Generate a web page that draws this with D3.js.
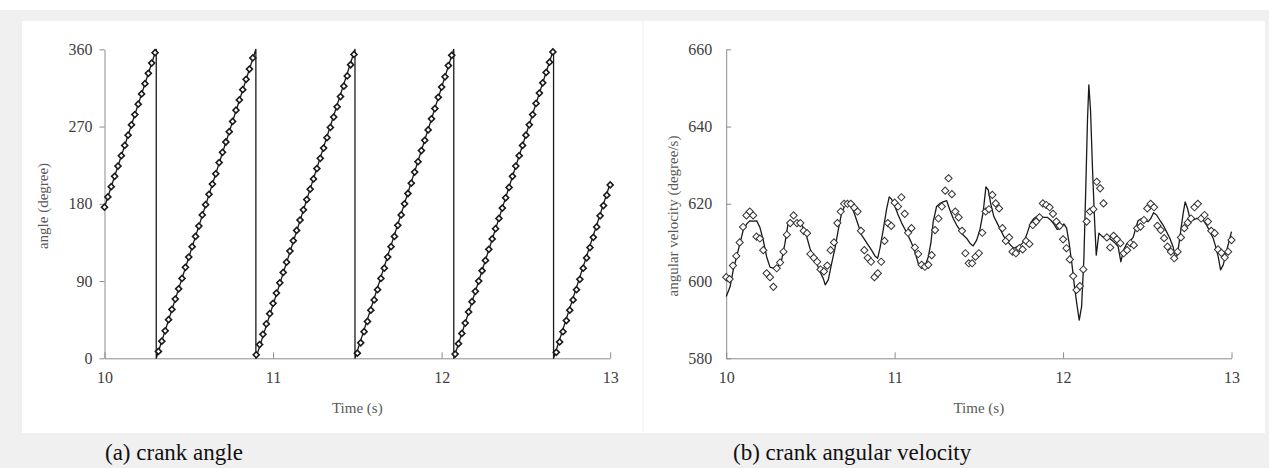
<!DOCTYPE html>
<html>
<head>
<meta charset="utf-8">
<script src="https://cdn.jsdelivr.net/npm/d3@7"></script>
<style>
  body { margin: 0; background: #fff; }
  svg { display: block; }
  .axis path, .axis line { stroke: #8c8c8c; }
</style>
</head>
<body>
<svg id="chart" width="1269" height="468"></svg>
<script>
const serif = "'Liberation Serif', 'Times New Roman', 'DejaVu Serif', serif";

// sampling grid of the measured points (50 Hz, 10 s .. 13 s)
const sampleTimes = d3.range(151).map(i => 10 + i * 0.02);

// (a) measured crank angle, degree
const angleSamples = [
  176, 188, 200, 212, 224, 236, 248, 260, 272, 284, 296, 308, 320, 332, 344, 356,
  8, 20, 32, 45, 57, 69, 81, 93, 106, 118, 130, 142, 154, 167, 179, 191, 203, 215, 228, 240, 252, 264, 276, 289, 301, 313, 325, 337, 350,
  4, 16, 28, 40, 52, 64, 76, 88, 100, 112, 125, 137, 149, 161, 173, 185, 197, 209, 221, 233, 245, 257, 269, 281, 293, 305, 317, 329, 342, 354,
  6, 18, 31, 43, 56, 68, 80, 93, 105, 118, 130, 142, 155, 167, 180, 192, 204, 217, 229, 242, 254, 266, 279, 291, 304, 316, 328, 341, 353,
  5, 17, 29, 41, 54, 66, 78, 90, 102, 114, 127, 139, 151, 163, 175, 187, 199, 212, 224, 236, 248, 260, 272, 284, 297, 309, 321, 333, 345, 357,
  7, 19, 31, 44, 56, 68, 80, 92, 105, 117, 129, 141, 153, 166, 178, 190, 202
];

// (a) estimated crank angle line (vertices)
const angleLineT = [10, 10.307, 10.307, 10.898, 10.898, 11.486, 11.486, 12.072, 12.072, 12.664, 12.664, 13];
const angleLineV = [176, 360, 0, 360, 0, 360, 0, 360, 0, 360, 0, 204];

// (b) measured angular velocity, degree/s
const velocitySamples = [
  601, 600.5, 604, 606.5, 610, 614, 617, 618, 617, 611.5, 611, 608, 602, 601, 598.5, 603.3, 604.8, 607.6, 612, 615,
  617, 615, 615, 613, 612.4, 607, 606, 605, 603, 602.5, 604, 608, 610, 615, 618, 620, 620,
  620, 619, 618, 613, 608, 606, 605, 601, 602, 605, 610.4, 615, 614.3, 620.3, 619.3, 621.7, 617.4, 612.5, 613.7, 608.7,
  607, 604.2, 603.7, 604.2, 606.7, 613.2, 616.2, 619.3, 623.4, 626.6, 622.5, 618, 616.5, 613, 607.2, 604.6, 604.6, 606.3,
  607.2, 612.5, 618, 618.6, 622.3, 620.1, 618.8, 613.7, 610.4, 611.3, 607.6, 607.2, 608.5, 608.2, 610.4, 609.6, 614.5,
  615.4, 616.5, 620.1, 619.7, 619.1, 617.4, 615.4, 614.3, 610.8, 608.5, 605.6, 601.3, 597.7, 598.7, 603, 615.4, 618,
  618.6, 625.7, 624,
  620.1, 611.3, 608.7, 611.7, 610.8, 609.8, 607.2, 608, 609.8, 609.3, 613.7, 614.1, 615.8, 618.8, 620, 619.1, 614.3,
  613.2, 611.1, 608.9, 607.6, 605.9, 607.6, 611.3, 613.7, 615.1, 616.2, 619.1, 620, 616.2, 617.1, 615.4, 613, 612.4,
  608.2, 607.3, 606.1, 607.6, 610.6
];

// (b) estimated angular velocity line
const velocityLineT = [
  10.000, 10.023, 10.042, 10.062, 10.082, 10.101, 10.122, 10.141, 10.161, 10.181, 10.200, 10.220, 10.240, 10.260, 10.284,
  10.309, 10.329, 10.349, 10.369, 10.385, 10.402, 10.422, 10.438, 10.458, 10.478, 10.497, 10.517, 10.537, 10.557, 10.576,
  10.588, 10.606, 10.626, 10.646, 10.665, 10.685, 10.705, 10.725, 10.745, 10.764, 10.784, 10.804, 10.824, 10.843, 10.863,
  10.883, 10.899, 10.913, 10.932, 10.953, 10.968, 10.982, 11.002, 11.021, 11.042, 11.061, 11.081, 11.101, 11.120, 11.140,
  11.160, 11.180, 11.200, 11.215, 11.229, 11.249, 11.269, 11.288, 11.309, 11.328, 11.348, 11.368, 11.388, 11.407, 11.427,
  11.447, 11.466, 11.487, 11.506, 11.526, 11.542, 11.556, 11.570, 11.589, 11.609, 11.629, 11.649, 11.668, 11.688, 11.708,
  11.728, 11.748, 11.767, 11.787, 11.807, 11.827, 11.846, 11.866, 11.886, 11.906, 11.926, 11.945, 11.965, 11.985, 12.005,
  12.021, 12.036, 12.052, 12.068, 12.084, 12.096, 12.110, 12.124, 12.135, 12.145, 12.153, 12.163, 12.175, 12.187, 12.197,
  12.213, 12.229, 12.249, 12.268, 12.288, 12.307, 12.327, 12.343, 12.359, 12.377, 12.396, 12.416, 12.430, 12.445, 12.466,
  12.485, 12.505, 12.521, 12.537, 12.555, 12.574, 12.594, 12.614, 12.634, 12.653, 12.669, 12.683, 12.699, 12.713, 12.725,
  12.739, 12.753, 12.773, 12.792, 12.812, 12.832, 12.852, 12.872, 12.891, 12.906, 12.921, 12.935, 12.951, 12.967, 12.985,
  13.000
];
const velocityLineV = [
  596, 598.5, 602.9, 606.3, 609.8, 613.2, 614.8, 615.6, 615.5, 615.6, 613.9, 610.6, 606.3, 603.6, 603.3,
  603.9, 605.4, 609.8, 615.4, 615.6, 615.1, 615.4, 615.4, 613.7, 611.5, 608.5, 606.3, 604.6, 602.4, 600.7,
  599, 600.3, 604.6, 608.5, 613.2, 617.5, 619.7, 620.5, 619.3, 617.1, 614.5, 611.9, 610.6, 609.3, 608,
  606.5, 605.9, 608.5, 613.2, 618.8, 621.8, 621.2, 619.3, 617.1, 615, 613.4, 611.7, 609.8, 607.6, 604.6,
  603.3, 603.7, 606.3, 609.8, 615.4, 619.3, 620.1, 620.5, 620.8, 618.4, 616.2, 614.5, 613.2, 611.9, 611.1,
  609.8, 609.1, 610.6, 613.2, 618, 624.4, 623.6, 620.1, 616.7, 615, 613.2, 611.5, 610.4, 609.3, 608.5,
  608.9, 609.3, 610.2, 612.4, 615, 616.2, 616.8, 616.7, 616.5, 616.5, 615.8, 614.8, 613.4, 613.7, 614.8,
  613.7, 609.8, 604.6, 598.5, 593.4, 589.9, 593.4, 606.3, 624.4, 641.7, 650.8, 644.3, 628.8, 615.8, 606.7,
  612.4, 611.7, 611.1, 611.3, 610.6, 609.9, 608.9, 605, 608, 609.6, 610.2, 611.3, 613.4, 615.6, 616.2,
  615.6, 615.4, 616.2, 617.7, 617.1, 615.8, 614.5, 612.8, 611.1, 608.9, 605.4, 608, 613.2, 617.5, 620.5,
  618.8, 616.2, 615.8, 616.2, 616.2, 615.8, 614.5, 612.8, 611.1, 608.9, 606.3, 602.9, 604.2, 607.2, 610.2,
  612.8
];

const xTicks = [10, 11, 12, 13];
const angleTicks = [0, 90, 180, 270, 360];
const velocityTicks = [580, 600, 620, 640, 660];
const captions = ['(a) crank angle', '(b) crank angular velocity'];

const svg = d3.select('#chart');

// page background and the two white panels
svg.append('rect').attr('width', 1269).attr('height', 468).attr('fill', '#fff');
svg.append('rect').attr('y', 10).attr('width', 1269).attr('height', 458).attr('fill', '#f0f0f0');
svg.append('rect').attr('x', 22).attr('y', 21).attr('width', 620.5).attr('height', 412).attr('fill', '#fff');
svg.append('rect').attr('x', 643.5).attr('y', 21).attr('width', 621.5).attr('height', 412).attr('fill', '#fff');

function drawPanel(opt) {
  const x = d3.scaleLinear().domain([10, 13]).range(opt.xRange);
  const y = d3.scaleLinear().domain(opt.yDomain).range([358.3, 49.3]);
  const g = svg.append('g');

  g.append('g')
    .attr('class', 'axis')
    .attr('transform', 'translate(0,358.3)')
    .call(d3.axisBottom(x).tickValues(xTicks).tickFormat(d3.format('d')).tickSizeInner(-6).tickSizeOuter(0).tickPadding(13));

  g.append('g')
    .attr('class', 'axis')
    .attr('transform', `translate(${opt.xRange[0]},0)`)
    .call(d3.axisLeft(y).tickValues(opt.yTicks).tickFormat(d3.format('d')).tickSizeInner(opt.yTickSize).tickSizeOuter(0).tickPadding(opt.yPad));

  g.selectAll('.axis')
    .attr('font-family', serif)
    .attr('font-size', 16);
  g.selectAll('.axis text').attr('fill', '#404040');
  g.selectAll('.axis .domain').attr('stroke', '#8c8c8c');

  // solid line
  const line = d3.line().x(d => x(d[0])).y(d => y(d[1]));
  g.append('path')
    .datum(opt.lineT.map((t, i) => [t, opt.lineV[i]]))
    .attr('fill', 'none')
    .attr('stroke', '#1a1a1a')
    .attr('stroke-width', 1.3)
    .attr('stroke-linejoin', 'round')
    .attr('d', line);

  // diamond markers
  const diamond = d3.symbol(d3.symbolSquare, opt.markerSize);
  g.append('g')
    .selectAll('path')
    .data(sampleTimes.map((t, i) => [t, opt.samples[i]]))
    .join('path')
    .attr('d', diamond)
    .attr('transform', d => `translate(${x(d[0])},${y(d[1])}) rotate(45)`)
    .attr('fill', '#fff')
    .attr('stroke', opt.markerStroke)
    .attr('stroke-width', opt.markerWidth);

  g.append('text')
    .attr('transform', `translate(${opt.yLabelX},${opt.yLabelY}) rotate(-90)`)
    .attr('text-anchor', 'middle')
    .attr('font-family', serif)
    .attr('font-size', 15)
    .attr('fill', '#595959')
    .text(opt.yLabel);

  g.append('text')
    .attr('x', (opt.xRange[0] + opt.xRange[1]) / 2)
    .attr('y', 413)
    .attr('text-anchor', 'middle')
    .attr('font-family', serif)
    .attr('font-size', 15)
    .attr('fill', '#595959')
    .text('Time (s)');

  g.append('text')
    .attr('x', opt.captionX)
    .attr('y', 460)
    .attr('font-family', serif)
    .attr('font-size', 23)
    .attr('fill', '#111')
    .text(opt.caption);
}

drawPanel({
  xRange: [104.5, 610.2],
  yDomain: [0, 360],
  yTicks: angleTicks,
  yTickSize: 5,
  yPad: 7,
  lineT: angleLineT,
  lineV: angleLineV,
  samples: angleSamples,
  markerSize: 18,
  markerStroke: '#1a1a1a',
  markerWidth: 1.6,
  yLabel: 'angle (degree)',
  yLabelX: 48,
  yLabelY: 206,
  captionX: 105,
  caption: captions[0]
});

drawPanel({
  xRange: [726.2, 1231.5],
  yDomain: [580, 660],
  yTicks: velocityTicks,
  yTickSize: -5,
  yPad: 14,
  lineT: velocityLineT,
  lineV: velocityLineV,
  samples: velocitySamples,
  markerSize: 26,
  markerStroke: '#333',
  markerWidth: 1,
  yLabel: 'angular velocity (degree/s)',
  yLabelX: 678,
  yLabelY: 216,
  captionX: 733,
  caption: captions[1]
});
</script>
</body>
</html>
